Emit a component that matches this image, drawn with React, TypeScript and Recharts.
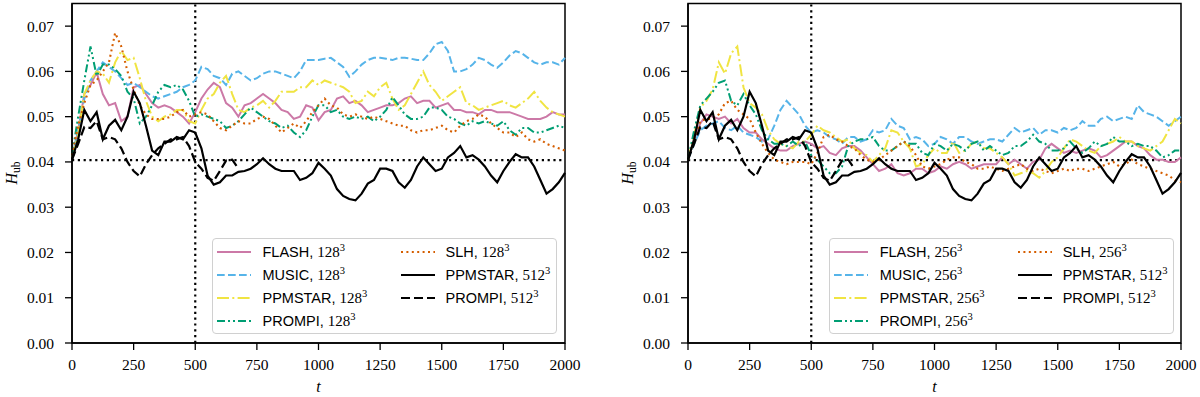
import { LineChart, Line, XAxis, YAxis, ReferenceLine, ReferenceArea } from 'recharts';

// time grid (every 25 time units)
const TIMES = [
  0, 25, 50, 75, 100, 125, 150, 175, 200, 225, 250, 275, 300, 325, 350, 375,
  400, 425, 450, 475, 500, 525, 550, 575, 600, 625, 650, 675, 700, 725, 750, 775,
  800, 825, 850, 875, 900, 925, 950, 975, 1000, 1025, 1050, 1075, 1100, 1125, 1150, 1175,
  1200, 1225, 1250, 1275, 1300, 1325, 1350, 1375, 1400, 1425, 1450, 1475, 1500, 1525, 1550, 1575,
  1600, 1625, 1650, 1675, 1700, 1725, 1750, 1775, 1800, 1825, 1850, 1875, 1900, 1925, 1950, 1975,
  2000,
];

const X_TICKS = [0, 250, 500, 750, 1000, 1250, 1500, 1750, 2000];
const Y_TICKS = [0, 0.01, 0.02, 0.03, 0.04, 0.05, 0.06, 0.07];

// 512^3 reference runs (same in both panels)
const PPMSTAR_512 = [
  0.0405, 0.045, 0.0515, 0.049, 0.051, 0.045, 0.048, 0.0493,
  0.047, 0.05, 0.0555, 0.053, 0.048, 0.0425, 0.0415, 0.0445,
  0.0445, 0.0455, 0.045, 0.047, 0.0465, 0.043, 0.037, 0.035,
  0.0355, 0.037, 0.037, 0.0378, 0.038, 0.0385, 0.0395, 0.0408,
  0.0395, 0.0385, 0.038, 0.038, 0.038, 0.036, 0.0365, 0.0375,
  0.0398, 0.0385, 0.037, 0.034, 0.0325, 0.0318, 0.0315, 0.033,
  0.0352, 0.036, 0.0385, 0.0385, 0.038, 0.0355, 0.0343, 0.036,
  0.039, 0.041, 0.0395, 0.038, 0.0385, 0.041, 0.042, 0.0435,
  0.041, 0.0415, 0.0405, 0.039, 0.037, 0.0355, 0.038, 0.04,
  0.0417, 0.041, 0.041, 0.039, 0.036, 0.033, 0.034, 0.0355,
  0.0376,
];
const PROMPI_512 = [
  0.0405, 0.044, 0.0477, 0.0475, 0.049, 0.045, 0.0455, 0.045,
  0.043, 0.04, 0.038, 0.0368, 0.0395, 0.0415, 0.043, 0.044,
  0.045, 0.045, 0.0455, 0.0435, 0.04, 0.0385, 0.0365, 0.0358,
  0.038, 0.0403, 0.0405, 0.0385, null, null, null, null,
  null, null, null, null, null, null, null, null,
  null, null, null, null, null, null, null, null,
  null, null, null, null, null, null, null, null,
  null, null, null, null, null, null, null, null,
  null, null, null, null, null, null, null, null,
  null, null, null, null, null, null, null, null,
  null,
];

// 128^3 runs
const FLASH_128 = [
  0.041, 0.047, 0.055, 0.057, 0.0598, 0.055, 0.0525, 0.053,
  0.049, 0.05, 0.0565, 0.057, 0.055, 0.053, 0.052, 0.0525,
  0.052, 0.051, 0.05, 0.0485, 0.051, 0.054, 0.056, 0.0575,
  0.0565, 0.053, 0.052, 0.05, 0.0525, 0.053, 0.054, 0.055,
  0.054, 0.053, 0.0515, 0.051, 0.0495, 0.05, 0.0525, 0.052,
  0.0492, 0.051, 0.0515, 0.054, 0.0545, 0.053, 0.0535, 0.0525,
  0.051, 0.0515, 0.052, 0.0525, 0.0525, 0.053, 0.054, 0.0545,
  0.053, 0.0535, 0.0535, 0.052, 0.0525, 0.053, 0.0515, 0.0515,
  0.051, 0.051, 0.0505, 0.0515, 0.0515, 0.051, 0.051, 0.051,
  0.0505, 0.05, 0.0495, 0.0495, 0.0495, 0.05, 0.051, 0.0505,
  0.0505,
];
const MUSIC_128 = [
  0.041, 0.047, 0.054, 0.058, 0.06, 0.062, 0.061, 0.06,
  0.0585, 0.057, 0.0575, 0.0565, 0.0555, 0.0545, 0.054, 0.0545,
  0.055, 0.0555, 0.0565, 0.057, 0.058, 0.061, 0.0605, 0.059,
  0.0585, 0.057, 0.0595, 0.06, 0.059, 0.058, 0.0585, 0.0595,
  0.06, 0.06, 0.0595, 0.059, 0.0585, 0.06, 0.0625, 0.0625,
  0.0625, 0.0628, 0.063, 0.062, 0.061, 0.0588, 0.06, 0.0615,
  0.0625, 0.063, 0.063, 0.0628, 0.0625, 0.063, 0.063, 0.0628,
  0.0625, 0.0625, 0.064, 0.066, 0.0665, 0.0645, 0.06, 0.06,
  0.0605, 0.0615, 0.063, 0.0625, 0.0615, 0.0608, 0.062, 0.0635,
  0.0645, 0.064, 0.063, 0.062, 0.0615, 0.062, 0.062, 0.0615,
  0.063,
];
const PPMSTAR_128 = [
  0.041, 0.046, 0.055, 0.058, 0.06, 0.0595, 0.0575, 0.062,
  0.0645, 0.0625, 0.063, 0.0585, 0.0535, 0.05, 0.049, 0.05,
  0.0505, 0.0515, 0.0515, 0.049, 0.0485, 0.0515, 0.054, 0.055,
  0.0575, 0.059, 0.055, 0.0515, 0.051, 0.052, 0.0525, 0.0535,
  0.052, 0.0535, 0.0555, 0.0555, 0.0555, 0.0565, 0.0565, 0.058,
  0.057, 0.058, 0.0575, 0.057, 0.0565, 0.0555, 0.053, 0.0535,
  0.0555, 0.0545, 0.0565, 0.0575, 0.054, 0.0515, 0.0525, 0.055,
  0.0575, 0.06, 0.057, 0.0555, 0.0535, 0.0545, 0.0555, 0.0565,
  0.053, 0.0525, 0.0515, 0.052, 0.0525, 0.053, 0.0535, 0.0525,
  0.052, 0.053, 0.054, 0.0555, 0.0535, 0.052, 0.051, 0.0505,
  0.05,
];
const PROMPI_128 = [
  0.0415, 0.05, 0.058, 0.0655, 0.059, 0.0615, 0.0615, 0.0605,
  0.059, 0.0555, 0.054, 0.0485, 0.05, 0.0525, 0.0555, 0.057,
  0.0565, 0.057, 0.056, 0.0535, 0.05, 0.0505, 0.05, 0.0495,
  0.049, 0.0475, 0.048, 0.049, 0.0505, 0.052, 0.051, 0.05,
  0.049, 0.0485, 0.0475, 0.048, 0.0465, 0.0455, 0.047, 0.05,
  0.0525, 0.0525, 0.051, 0.0515, 0.05, 0.0495, 0.05, 0.0495,
  0.05, 0.049, 0.05, 0.0515, 0.0543, 0.0525, 0.0505, 0.0495,
  0.0495, 0.05, 0.052, 0.052, 0.0515, 0.05, 0.0495, 0.0485,
  0.048, 0.049, 0.0485, 0.049, 0.0485, 0.048, 0.049, 0.047,
  0.046, 0.0475, 0.0475, 0.0465, 0.0465, 0.047, 0.0475, 0.048,
  0.0475,
];
const SLH_128 = [
  0.0415, 0.048, 0.053, 0.057, 0.058, 0.06, 0.062, 0.0685,
  0.0655, 0.06, 0.056, 0.0525, 0.0505, 0.0495, 0.0495, 0.0495,
  0.05, 0.051, 0.0515, 0.05, 0.0505, 0.051, 0.0505, 0.049,
  0.0475, 0.047, 0.048, 0.049, 0.0485, 0.0485, 0.0495, 0.05,
  0.0495, 0.048, 0.0465, 0.0475, 0.0485, 0.0475, 0.049, 0.051,
  0.0525, 0.054, 0.0525, 0.052, 0.0505, 0.05, 0.0505, 0.05,
  0.0495, 0.05, 0.0495, 0.049, 0.0485, 0.048, 0.048, 0.047,
  0.0465, 0.047, 0.047, 0.0475, 0.048, 0.047, 0.0465, 0.048,
  0.049, 0.0495, 0.0505, 0.05, 0.0485, 0.0475, 0.0465, 0.0465,
  0.0455, 0.0465, 0.045, 0.0445, 0.045, 0.044, 0.0435, 0.043,
  0.0425,
];

// 256^3 runs
const FLASH_256 = [
  0.0405, 0.045, 0.0485, 0.0505, 0.05, 0.0495, 0.05, 0.0485,
  0.0495, 0.0475, 0.0465, 0.0465, 0.045, 0.044, 0.043, 0.0425,
  0.0425, 0.0435, 0.044, 0.0445, 0.044, 0.043, 0.0435, 0.042,
  0.0415, 0.043, 0.0435, 0.0435, 0.0425, 0.041, 0.0395, 0.038,
  0.0385, 0.0395, 0.0375, 0.037, 0.0375, 0.0385, 0.0385, 0.0375,
  0.038, 0.039, 0.0385, 0.0395, 0.04, 0.0395, 0.0385, 0.039,
  0.0395, 0.0395, 0.0395, 0.041, 0.0395, 0.0405, 0.0395, 0.0385,
  0.04, 0.0405, 0.043, 0.044, 0.043, 0.042, 0.0425, 0.042,
  0.0425, 0.043, 0.0425, 0.041, 0.0415, 0.0425, 0.0435, 0.0445,
  0.0445, 0.0435, 0.043, 0.0415, 0.0405, 0.0405, 0.04, 0.04,
  0.041,
];
const MUSIC_256 = [
  0.0405, 0.044, 0.047, 0.048, 0.0485, 0.049, 0.0475, 0.047,
  0.048, 0.0465, 0.046, 0.0455, 0.0445, 0.045, 0.048, 0.0515,
  0.0535, 0.052, 0.0505, 0.048, 0.0465, 0.047, 0.0465, 0.0455,
  0.045, 0.044, 0.0455, 0.0455, 0.0445, 0.045, 0.047, 0.0465,
  0.047, 0.0495, 0.048, 0.0475, 0.045, 0.0455, 0.045, 0.0435,
  0.044, 0.0455, 0.045, 0.044, 0.0455, 0.0455, 0.0445, 0.044,
  0.0445, 0.045, 0.045, 0.0445, 0.046, 0.0475, 0.0465, 0.047,
  0.0475, 0.046, 0.047, 0.047, 0.0465, 0.0475, 0.047, 0.0475,
  0.049, 0.048, 0.048, 0.0495, 0.05, 0.049, 0.0495, 0.05,
  0.0495, 0.0525, 0.051, 0.0505, 0.05, 0.049, 0.048, 0.049,
  0.05,
];
const PPMSTAR_256 = [
  0.0405, 0.046, 0.052, 0.0535, 0.056, 0.062, 0.0595, 0.064,
  0.0655, 0.0565, 0.053, 0.052, 0.0505, 0.047, 0.045, 0.044,
  0.0435, 0.043, 0.0445, 0.0445, 0.046, 0.048, 0.047, 0.0465,
  0.0455, 0.0445, 0.045, 0.043, 0.042, 0.0415, 0.04, 0.0415,
  0.043, 0.047, 0.0465, 0.0445, 0.043, 0.039, 0.0395, 0.0415,
  0.043, 0.042, 0.042, 0.0445, 0.042, 0.0425, 0.044, 0.0445,
  0.043, 0.043, 0.042, 0.041, 0.0395, 0.037, 0.0375, 0.038,
  0.0375, 0.0365, 0.038, 0.04, 0.041, 0.043, 0.045, 0.0445,
  0.0435, 0.0425, 0.042, 0.0435, 0.044, 0.0445, 0.0455, 0.0445,
  0.0445, 0.0435, 0.043, 0.0425, 0.0435, 0.0445, 0.047, 0.0495,
  0.0485,
];
const PROMPI_256 = [
  0.0405, 0.047, 0.0525, 0.054, 0.0555, 0.0575, 0.058, 0.0535,
  0.0525, 0.055, 0.0525, 0.0505, 0.047, 0.045, 0.044, 0.044,
  0.0435, 0.0445, 0.0435, 0.0445, 0.0415, 0.0405, 0.039, 0.0375,
  0.0375, 0.039, 0.0435, 0.0445, 0.045, 0.045, 0.0455, 0.0435,
  0.0425, 0.0425, 0.0435, 0.0445, 0.044, 0.044, 0.042, 0.0415,
  0.044, 0.0435, 0.0425, 0.044, 0.0435, 0.0425, 0.044, 0.0445,
  0.0425, 0.0435, 0.0425, 0.0415, 0.042, 0.0435, 0.0435, 0.0445,
  0.046, 0.0445, 0.044, 0.0425, 0.0425, 0.043, 0.0445, 0.043,
  0.042, 0.043, 0.0445, 0.0435, 0.044, 0.0455, 0.0445, 0.0445,
  0.0435, 0.044, 0.0435, 0.0435, 0.0425, 0.041, 0.0415, 0.0425,
  0.0425,
];
const SLH_256 = [
  0.0405, 0.045, 0.049, 0.0495, 0.0495, 0.0505, 0.053, 0.0535,
  0.0515, 0.0505, 0.0495, 0.0465, 0.044, 0.042, 0.0405, 0.04,
  0.0395, 0.04, 0.04, 0.04, 0.0395, 0.042, 0.0455, 0.046,
  0.045, 0.0445, 0.0435, 0.043, 0.0415, 0.0405, 0.04, 0.0405,
  0.0415, 0.0425, 0.0435, 0.0445, 0.0435, 0.0415, 0.039, 0.0385,
  0.039, 0.0395, 0.0405, 0.041, 0.041, 0.04, 0.0395, 0.0385,
  0.0385, 0.039, 0.0385, 0.038, 0.0385, 0.039, 0.0395, 0.0385,
  0.038, 0.0385, 0.038, 0.0375, 0.038, 0.0385, 0.038, 0.0385,
  0.0385, 0.038, 0.0385, 0.039, 0.0395, 0.04, 0.039, 0.0395,
  0.0405, 0.0395, 0.039, 0.0385, 0.038, 0.0375, 0.037, 0.036,
  0.0355,
];

const LEFT_NAMES = ['FLASH', 'MUSIC', 'PPMSTAR', 'PROMPI', 'SLH', 'PPMSTAR', 'PROMPI'];
const LEFT_RES = ['128', '128', '128', '128', '128', '512', '512'];
const RIGHT_RES = ['256', '256', '256', '256', '256', '512', '512'];

const STYLES = [
  { key: 'flash', color: '#CC79A7', dash: undefined, width: 2 },
  { key: 'music', color: '#56B4E9', dash: '7.7 3.3', width: 2 },
  { key: 'ppm', color: '#F0E442', dash: '12 3.3 2 3.3', width: 2 },
  { key: 'prompi', color: '#009E73', dash: '8 3 2 3 2 3', width: 2 },
  { key: 'slh', color: '#D55E00', dash: '2 3.4', width: 2.1 },
  { key: 'ppm512', color: '#000000', dash: undefined, width: 2.2 },
  { key: 'prompi512', color: '#000000', dash: '9 4', width: 2.2 },
];

const leftRows = TIMES.map((t, i) => ({
  t,
  flash: FLASH_128[i],
  music: MUSIC_128[i],
  ppm: PPMSTAR_128[i],
  prompi: PROMPI_128[i],
  slh: SLH_128[i],
  ppm512: PPMSTAR_512[i],
  prompi512: PROMPI_512[i],
}));

const rightRows = TIMES.map((t, i) => ({
  t,
  flash: FLASH_256[i],
  music: MUSIC_256[i],
  ppm: PPMSTAR_256[i],
  prompi: PROMPI_256[i],
  slh: SLH_256[i],
  ppm512: PPMSTAR_512[i],
  prompi512: PROMPI_512[i],
}));

const SERIF = '"Liberation Serif", "Times New Roman", serif';
const SANS = '"Liberation Sans", Arial, sans-serif';
const tickStyle = { fill: '#000', fontFamily: SERIF, fontSize: 15.5 };

function LegendLabel({ name, res }: { name: string; res: string }) {
  return (
    <span style={{ fontFamily: SANS, fontSize: 14.5, color: '#000', whiteSpace: 'nowrap' }}>
      {name},{' '}
      <span style={{ fontFamily: SERIF, fontSize: 15 }}>
        {res}
        <span style={{ fontSize: 10.5, position: 'relative', top: -6 }}>3</span>
      </span>
    </span>
  );
}

function Handle({ idx }: { idx: number }) {
  const s = STYLES[idx];
  return (
    <svg width={34} height={10} style={{ position: 'absolute', left: 0, top: -5 }}>
      <line x1={0} y1={5} x2={34} y2={5} stroke={s.color} strokeWidth={s.width} strokeDasharray={s.dash} />
    </svg>
  );
}

function ChartLegend({ left, resList }: { left: number; resList: string[] }) {
  const rowY = [12.7, 35.8, 58.9, 82];
  const items = LEFT_NAMES.map((name, i) => {
    const col = i < 4 ? 0 : 1;
    const row = i < 4 ? i : i - 4;
    return { name, res: resList[i], i, col, row };
  });
  return (
    <div
      style={{
        position: 'absolute',
        left,
        top: 238,
        width: 345,
        height: 96,
        border: '1px solid #d0d0d0',
        borderRadius: 4,
        background: 'rgba(255,255,255,0.8)',
        boxSizing: 'border-box',
      }}
    >
      {items.map((it) => (
        <div key={it.i} style={{ position: 'absolute', left: it.col === 0 ? 4 : 188, top: rowY[it.row] }}>
          <Handle idx={it.i} />
          <div style={{ position: 'absolute', left: it.col === 0 ? 46 : 45, top: -10, lineHeight: '20px' }}>
            <LegendLabel name={it.name} res={it.res} />
          </div>
        </div>
      ))}
    </div>
  );
}

function Panel({
  left,
  rows,
  yAxisW,
  marginRight,
  legendLeft,
  resList,
}: {
  left: number;
  rows: any[];
  yAxisW: number;
  marginRight: number;
  legendLeft: number;
  resList: string[];
}) {
  const plotCx = (yAxisW + (600 - marginRight)) / 2;
  return (
    <div style={{ position: 'absolute', left, top: 0, width: 600, height: 397 }}>
      <LineChart width={600} height={397} data={rows} margin={{ top: 3.5, right: marginRight, bottom: 0, left: 0 }}>
        <XAxis
          dataKey="t"
          type="number"
          domain={[0, 2000]}
          ticks={X_TICKS}
          height={54}
          tickSize={7}
          tickMargin={9}
          tick={tickStyle}
          axisLine={{ stroke: '#000', strokeWidth: 1.5 }}
          tickLine={{ stroke: '#000', strokeWidth: 1.3 }}
          interval={0}
        />
        <YAxis
          type="number"
          domain={[0, 0.075]}
          ticks={Y_TICKS}
          width={yAxisW}
          tickSize={7}
          tickMargin={11}
          tick={tickStyle}
          tickFormatter={(v: number) => v.toFixed(2)}
          axisLine={{ stroke: '#000', strokeWidth: 1.5 }}
          tickLine={{ stroke: '#000', strokeWidth: 1.3 }}
          interval={0}
          allowDataOverflow
        />
        <ReferenceLine y={0.0404} stroke="#000" strokeWidth={2.2} strokeDasharray="2.2 3.6" />
        <ReferenceLine x={500} stroke="#000" strokeWidth={2.2} strokeDasharray="2.2 3.6" />
        {STYLES.map((s) => (
          <Line
            key={s.key}
            type="linear"
            dataKey={s.key}
            stroke={s.color}
            strokeWidth={s.width}
            strokeDasharray={s.dash}
            dot={false}
            activeDot={false}
            connectNulls={false}
            isAnimationActive={false}
          />
        ))}
        <ReferenceArea x1={0} x2={2000} y1={0} y2={0.075} fill="none" fillOpacity={0} stroke="#000" strokeWidth={1.5} />
      </LineChart>

      {/* y label */}
      <div
        style={{
          position: 'absolute',
          left: yAxisW - 60 - 30,
          top: 163,
          width: 60,
          height: 20,
          lineHeight: '20px',
          textAlign: 'center',
          transform: 'rotate(-90deg)',
          fontFamily: SERIF,
          fontSize: 16,
          color: '#000',
        }}
      >
        <i>H</i>
        <span style={{ fontSize: 11.5, position: 'relative', top: 3 }}>ub</span>
      </div>

      {/* x label */}
      <div
        style={{
          position: 'absolute',
          left: plotCx - 10,
          top: 377,
          width: 20,
          lineHeight: '20px',
          textAlign: 'center',
          fontFamily: SERIF,
          fontStyle: 'italic',
          fontSize: 16,
          color: '#000',
        }}
      >
        t
      </div>

      <ChartLegend left={legendLeft} resList={resList} />
    </div>
  );
}

export default function App() {
  return (
    <div style={{ position: 'absolute', left: 0, top: 0, width: 1200, height: 397, background: '#fff', overflow: 'hidden' }}>
      <Panel left={0} rows={leftRows} yAxisW={72} marginRight={35} legendLeft={211.5} resList={LEFT_RES} />
      <Panel left={600} rows={rightRows} yAxisW={88} marginRight={19} legendLeft={228.7} resList={RIGHT_RES} />
    </div>
  );
}
